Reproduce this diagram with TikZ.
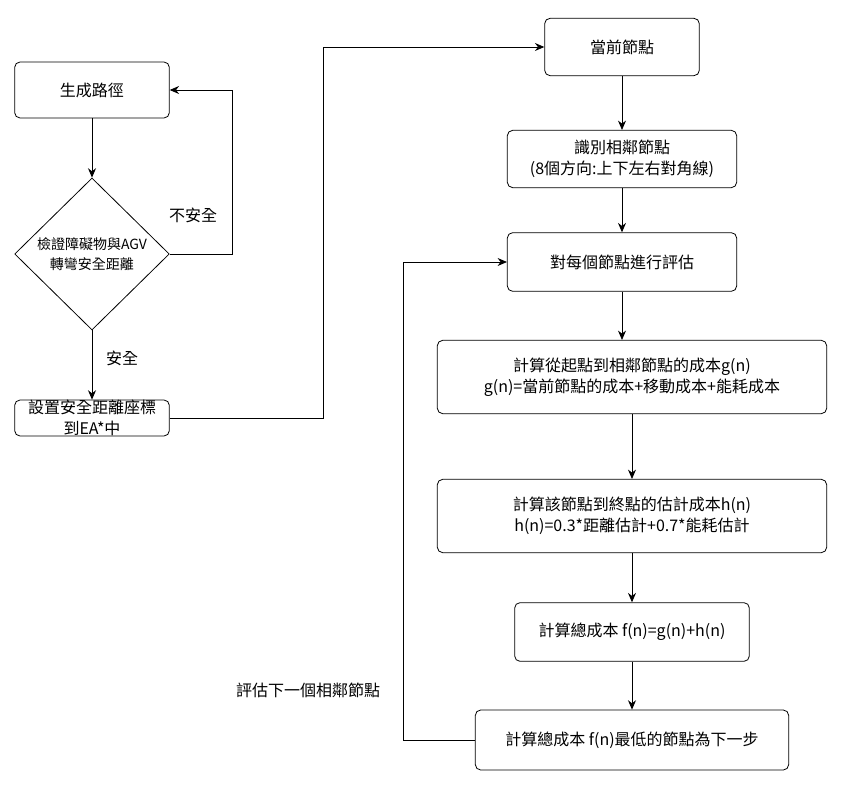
\documentclass[tikz,border=0pt]{standalone}
\usepackage{fontspec}
\newfontfamily\cjk{Noto Sans CJK TC}
\usetikzlibrary{shapes.geometric,arrows.meta}
\begin{document}
\begin{tikzpicture}
[x=0.75pt, y=-0.75pt, >={Stealth[length=7pt,width=6pt]}, semithick,
 box/.style={draw, rounded corners=4pt, align=center, inner sep=0pt, font=\cjk\fontsize{12}{15.5}\selectfont},
 lbl/.style={font=\cjk\fontsize{12}{15}\selectfont}]
\useasboundingbox (0,0) rectangle (843,788);
\node (gen) at (92,90) [box, minimum width=116pt, minimum height=42pt] {生成路徑};
\node (check) at (92,254) [draw, diamond, aspect=1.02, minimum width=116pt, minimum height=114pt, inner sep=0pt, align=center, font=\cjk\fontsize{10.5}{15}\selectfont] {檢證障礙物與AGV\\轉彎安全距離};
\node (setc) at (92,418) [box, minimum width=116pt, minimum height=27pt] {設置安全距離座標\\到EA*中};
\node (cur) at (622,47) [box, minimum width=116pt, minimum height=43pt] {當前節點};
\node (nbr) at (622,159) [box, minimum width=172pt, minimum height=43pt] {識別相鄰節點\\(8個方向:上下左右對角線)};
\node (eval) at (622,262) [box, minimum width=172pt, minimum height=44pt] {對每個節點進行評估};
\node (gcost) at (632,377) [box, minimum width=292pt, minimum height=55pt] {計算從起點到相鄰節點的成本g(n)\\g(n)=當前節點的成本+移動成本+能耗成本};
\node (hcost) at (632,516) [box, minimum width=292pt, minimum height=55pt] {計算該節點到終點的估計成本h(n)\\h(n)=0.3*距離估計+0.7*能耗估計};
\node (fcost) at (632,632) [box, minimum width=176pt, minimum height=44pt] {計算總成本 f(n)=g(n)+h(n)};
\node (best) at (632,740) [box, minimum width=235pt, minimum height=45pt] {計算總成本 f(n)最低的節點為下一步};

\draw[->] (gen) -- (check);
\draw[->] (check.east) -- (232,254) |- (gen.east);
\node (unsafe) at (193,215) [lbl] {不安全};
\draw[->] (check.south) -- (setc.north);
\node (safe) at (122,358) [lbl] {安全};
\draw[->] (setc.east) -- (323,418) |- (cur.west);
\draw[->] (cur) -- (nbr);
\draw[->] (nbr) -- (eval);
\draw[->] (eval.south) -- (gcost.north -| eval.south);
\draw[->] (gcost) -- (hcost);
\draw[->] (hcost) -- (fcost);
\draw[->] (fcost) -- (best);
\draw[->] (best.west) -- (403,740) |- (eval.west);
\node (next) at (308,690) [lbl] {評估下一個相鄰節點};
\end{tikzpicture}
\end{document}
